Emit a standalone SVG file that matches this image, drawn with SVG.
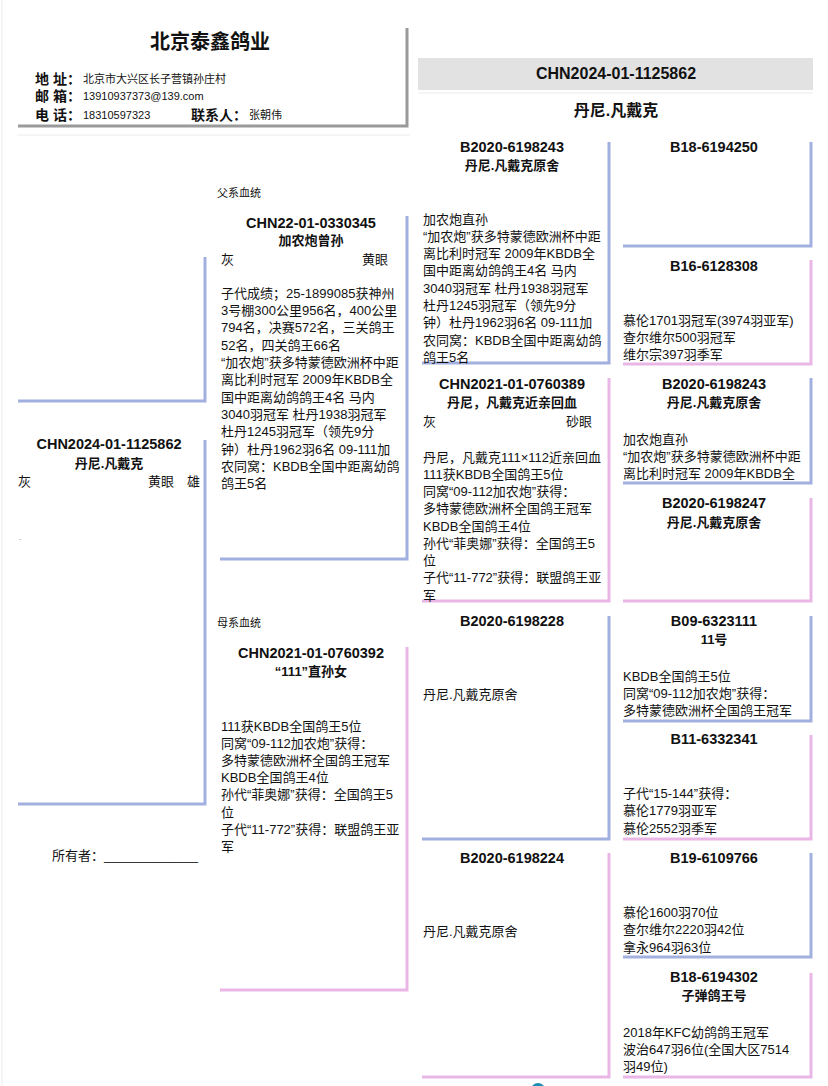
<svg xmlns="http://www.w3.org/2000/svg" width="828" height="1086" viewBox="0 0 828 1086">
<style>
text{font-family:"Liberation Sans","Noto Sans CJK SC",sans-serif;fill:#111}
.id{font-size:14.5px;font-weight:bold;text-anchor:middle}
.nm{font-size:13px;font-weight:bold;text-anchor:middle}
.b{font-size:13px}
.lb{font-size:14px;font-weight:bold}
.v{font-size:11px}
.sm{font-size:11px}
.bl{fill:none;stroke:#a2b0e0;stroke-width:3}
.pk{fill:none;stroke:#eab6e6;stroke-width:3}
.sh{fill:none;stroke:#9a9a9a;stroke-width:3}
.fa{fill:none;stroke:#ececec;stroke-width:1}
</style>
<rect width="828" height="1086" fill="#fff"/>
<line class="fa" x1="2" y1="0" x2="2" y2="1086"/>

<g id="header-left">
<path class="sh" d="M18,126 H407 V28"/>
<line class="fa" x1="17" y1="135" x2="410" y2="135"/>
<text x="210" y="49" style="font-size:20px;font-weight:bold;text-anchor:middle">北京泰鑫鸽业</text>
<text class="lb" x="35" y="84">地 址：</text>
<text class="v" x="83" y="83">北京市大兴区长子营镇孙庄村</text>
<text class="lb" x="35" y="101">邮 箱：</text>
<text class="v" x="83" y="100">13910937373@139.com</text>
<text class="lb" x="35" y="120">电 话：</text>
<text class="v" x="83" y="119">18310597323</text>
<text class="lb" x="191" y="120">联系人：</text>
<text class="v" x="249" y="119">张朝伟</text>
</g>

<g id="header-right">
<rect x="418" y="58" width="395" height="32" fill="#e2e2e2"/>
<line class="fa" x1="418" y1="93" x2="813" y2="93"/>
<text x="616" y="79" style="font-size:16px;font-weight:bold;text-anchor:middle">CHN2024-01-1125862</text>
<text x="616" y="116" style="font-size:16px;font-weight:bold;text-anchor:middle">丹尼.凡戴克</text>
</g>

<g id="connectors">
<path class="bl" d="M18,401 H205 V257"/>
</g>

<g id="subject">
<path class="bl" d="M18,804 H205 V440"/>
<text class="id" x="109" y="449">CHN2024-01-1125862</text>
<text class="nm" x="109" y="468">丹尼.凡戴克</text>
<text class="b" x="18" y="485.5">灰</text>
<text class="b" x="148" y="485.5">黄眼</text>
<text class="b" x="187" y="485.5">雄</text>
<text x="19" y="540" style="font-size:9px;fill:#999">.</text>
<text class="b" x="52" y="860">所有者：</text>
<text class="b" x="104" y="860">_____________</text>
</g>

<g id="sire">
<text class="sm" x="217" y="197">父系血统</text>
<path class="bl" d="M220,559 H407 V216"/>
<text class="id" x="311" y="228">CHN22-01-0330345</text>
<text class="nm" x="311" y="245">加农炮曾孙</text>
<text class="b" x="221" y="263.5">灰</text>
<text class="b" x="388" y="263.5" text-anchor="end">黄眼</text>
<text class="b" x="221" y="297.5"><tspan x="221">子代成绩；25-1899085获神州</tspan><tspan x="221" dy="17.36">3号棚300公里956名，400公里</tspan><tspan x="221" dy="17.36">794名，决赛572名，三关鸽王</tspan><tspan x="221" dy="17.36">52名，四关鸽王66名</tspan><tspan x="221" dy="17.36">“加农炮”获多特蒙德欧洲杯中距</tspan><tspan x="221" dy="17.36">离比利时冠军 2009年KBDB全</tspan><tspan x="221" dy="17.36">国中距离幼鸽鸽王4名 马内</tspan><tspan x="221" dy="17.36">3040羽冠军 杜丹1938羽冠军</tspan><tspan x="221" dy="17.36">杜丹1245羽冠军（领先9分</tspan><tspan x="221" dy="17.36">钟）杜丹1962羽6名 09-111加</tspan><tspan x="221" dy="17.36">农同窝：KBDB全国中距离幼鸽</tspan><tspan x="221" dy="17.36">鸽王5名</tspan></text>
</g>

<g id="dam">
<text class="sm" x="217" y="627">母系血统</text>
<path class="pk" d="M220,990 H407 V647"/>
<text class="id" x="311" y="658">CHN2021-01-0760392</text>
<text class="nm" x="311" y="676">“111”直孙女</text>
<text class="b" x="221" y="730.5"><tspan x="221">111获KBDB全国鸽王5位</tspan><tspan x="221" dy="17.2">同窝“09-112加农炮”获得：</tspan><tspan x="221" dy="17.2">多特蒙德欧洲杯全国鸽王冠军</tspan><tspan x="221" dy="17.2">KBDB全国鸽王4位</tspan><tspan x="221" dy="17.2">孙代“菲奥娜”获得：全国鸽王5</tspan><tspan x="221" dy="17.2">位</tspan><tspan x="221" dy="17.2">子代“11-772”获得：联盟鸽王亚</tspan><tspan x="221" dy="17.2">军</tspan></text>
</g>

<g id="ss">
<path class="bl" d="M422,363 H609 V142"/>
<text class="id" x="512" y="152">B2020-6198243</text>
<text class="nm" x="512" y="170">丹尼.凡戴克原舍</text>
<text class="b" x="423" y="223.5"><tspan x="423">加农炮直孙</tspan><tspan x="423" dy="17.3">“加农炮”获多特蒙德欧洲杯中距</tspan><tspan x="423" dy="17.3">离比利时冠军 2009年KBDB全</tspan><tspan x="423" dy="17.3">国中距离幼鸽鸽王4名 马内</tspan><tspan x="423" dy="17.3">3040羽冠军 杜丹1938羽冠军</tspan><tspan x="423" dy="17.3">杜丹1245羽冠军（领先9分</tspan><tspan x="423" dy="17.3">钟）杜丹1962羽6名 09-111加</tspan><tspan x="423" dy="17.3">农同窝：KBDB全国中距离幼鸽</tspan><tspan x="423" dy="17.3">鸽王5名</tspan></text>
</g>

<g id="sd">
<path class="pk" d="M422,601 H609 V378"/>
<text class="id" x="512" y="389">CHN2021-01-0760389</text>
<text class="nm" x="512" y="407">丹尼，凡戴克近亲回血</text>
<text class="b" x="423" y="425.5">灰</text>
<text class="b" x="592" y="425.5" text-anchor="end">砂眼</text>
<text class="b" x="423" y="461.5"><tspan x="423">丹尼，凡戴克111×112近亲回血</tspan><tspan x="423" dy="17.25">111获KBDB全国鸽王5位</tspan><tspan x="423" dy="17.25">同窝“09-112加农炮”获得：</tspan><tspan x="423" dy="17.25">多特蒙德欧洲杯全国鸽王冠军</tspan><tspan x="423" dy="17.25">KBDB全国鸽王4位</tspan><tspan x="423" dy="17.25">孙代“菲奥娜”获得：全国鸽王5</tspan><tspan x="423" dy="17.25">位</tspan><tspan x="423" dy="17.25">子代“11-772”获得：联盟鸽王亚</tspan><tspan x="423" dy="17.25">军</tspan></text>
</g>

<g id="ds">
<path class="bl" d="M422,839 H609 V616"/>
<text class="id" x="512" y="626">B2020-6198228</text>
<text class="b" x="423" y="698.5">丹尼.凡戴克原舍</text>
</g>

<g id="dd">
<path class="pk" d="M422,1077 H609 V853"/>
<text class="id" x="512" y="863">B2020-6198224</text>
<text class="b" x="423" y="935.5">丹尼.凡戴克原舍</text>
</g>

<g id="sss">
<path class="bl" d="M623,246 H811 V142"/>
<text class="id" x="714" y="152">B18-6194250</text>
</g>

<g id="ssd">
<path class="pk" d="M623,364 H811 V260"/>
<text class="id" x="714" y="271">B16-6128308</text>
<text class="b" x="623" y="324.5"><tspan x="623">慕伦1701羽冠军(3974羽亚军)</tspan><tspan x="623" dy="17.3">查尔维尔500羽冠军</tspan><tspan x="623" dy="17.3">维尔宗397羽季军</tspan></text>
</g>

<g id="sds">
<path class="bl" d="M623,483 H811 V378"/>
<text class="id" x="714" y="389">B2020-6198243</text>
<text class="nm" x="714" y="407">丹尼.凡戴克原舍</text>
<text class="b" x="623" y="443.5"><tspan x="623">加农炮直孙</tspan><tspan x="623" dy="17.3">“加农炮”获多特蒙德欧洲杯中距</tspan><tspan x="623" dy="17.3">离比利时冠军 2009年KBDB全</tspan></text>
</g>

<g id="sdd">
<path class="pk" d="M623,601 H811 V498"/>
<text class="id" x="714" y="508">B2020-6198247</text>
<text class="nm" x="714" y="527">丹尼.凡戴克原舍</text>
</g>

<g id="dss">
<path class="bl" d="M623,721 H811 V616"/>
<text class="id" x="714" y="626">B09-6323111</text>
<text class="nm" x="714" y="644">11号</text>
<text class="b" x="623" y="680.5"><tspan x="623">KBDB全国鸽王5位</tspan><tspan x="623" dy="17.3">同窝“09-112加农炮”获得：</tspan><tspan x="623" dy="17.3">多特蒙德欧洲杯全国鸽王冠军</tspan></text>
</g>

<g id="dsd">
<path class="pk" d="M623,839 H811 V735"/>
<text class="id" x="714" y="744">B11-6332341</text>
<text class="b" x="623" y="797.5"><tspan x="623">子代“15-144”获得：</tspan><tspan x="623" dy="17.6">慕伦1779羽亚军</tspan><tspan x="623" dy="17.6">慕伦2552羽季军</tspan></text>
</g>

<g id="dds">
<path class="bl" d="M623,957 H811 V853"/>
<text class="id" x="714" y="863">B19-6109766</text>
<text class="b" x="623" y="916.5"><tspan x="623">慕伦1600羽70位</tspan><tspan x="623" dy="17.8">查尔维尔2220羽42位</tspan><tspan x="623" dy="17.8">拿永964羽63位</tspan></text>
</g>

<g id="ddd">
<path class="pk" d="M623,1077 H811 V973"/>
<text class="id" x="714" y="982">B18-6194302</text>
<text class="nm" x="714" y="1000">子弹鸽王号</text>
<text class="b" x="623" y="1036.5"><tspan x="623">2018年KFC幼鸽鸽王冠军</tspan><tspan x="623" dy="17.3">波治647羽6位(全国大区7514</tspan><tspan x="623" dy="17.3">羽49位)</tspan></text>
</g>

<circle cx="538" cy="1090" r="7" fill="#1e8db5"/>
</svg>
